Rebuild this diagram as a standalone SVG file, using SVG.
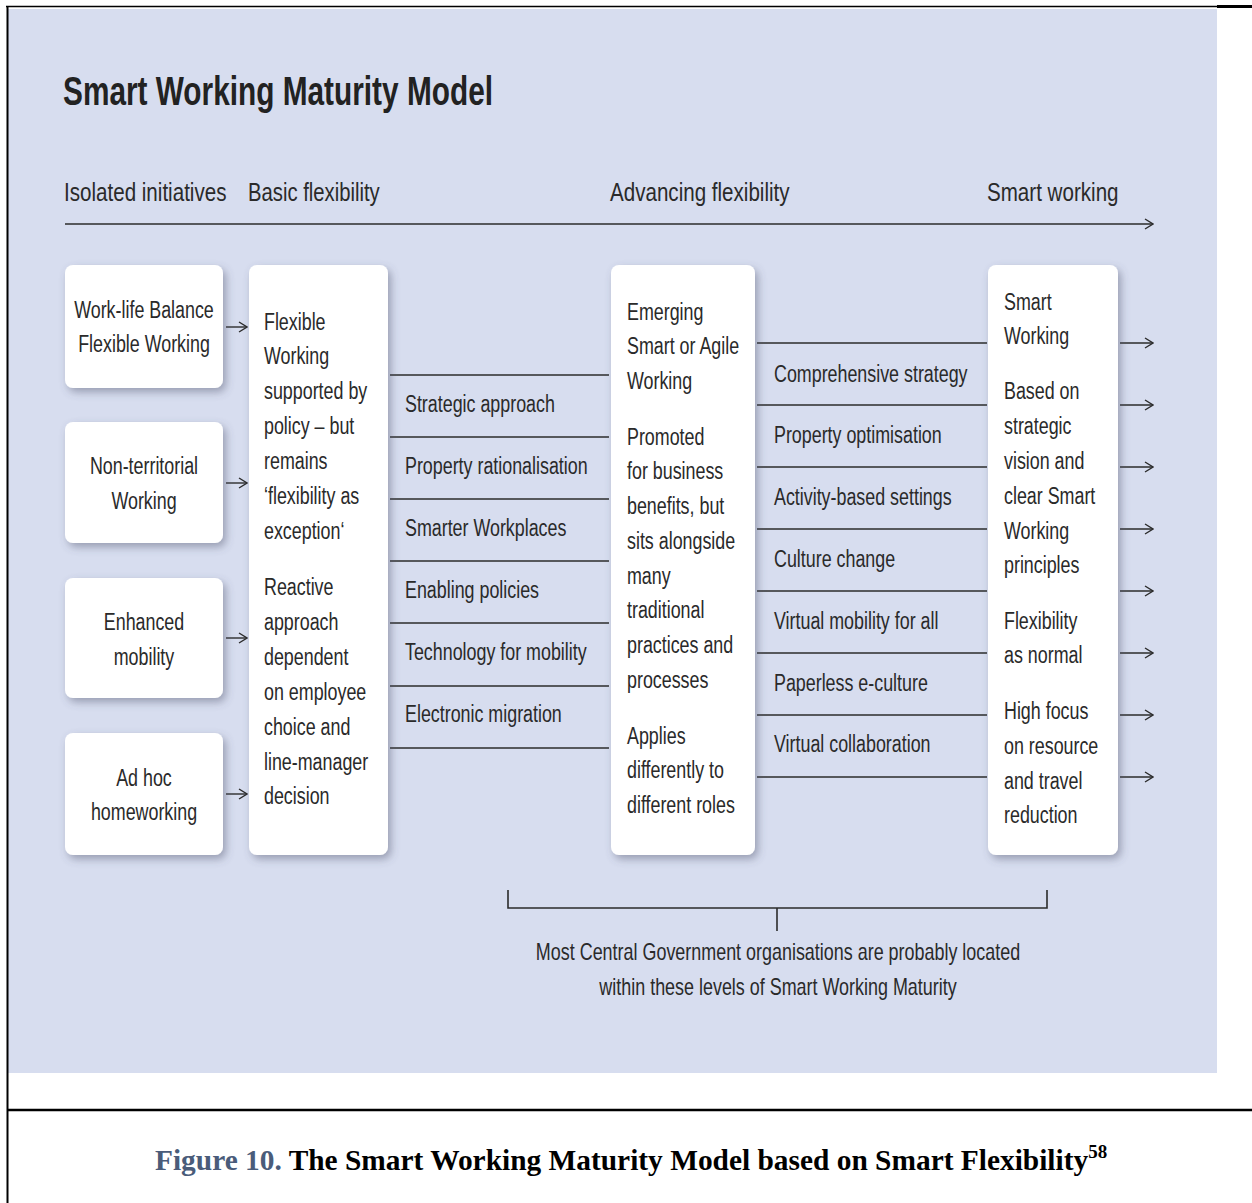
<svg xmlns="http://www.w3.org/2000/svg" width="1252" height="1203" viewBox="0 0 1252 1203">
<defs>
<filter id="sh" x="-20%" y="-10%" width="150%" height="130%">
<feDropShadow dx="3" dy="4" stdDeviation="4" flood-color="#4a5068" flood-opacity="0.45"/>
</filter>
<marker id="ar" viewBox="0 0 12 12" markerWidth="12" markerHeight="12" refX="11" refY="6" markerUnits="userSpaceOnUse" orient="auto">
<polyline points="3,1 11,6 3,11" fill="none" stroke="#2b2b2b" stroke-width="1.4"/>
</marker>
</defs>
<style>
.t{font-family:"Liberation Sans",Arial,sans-serif;font-size:23px;fill:#2a2a2a}
.h{font-size:26.5px}
.c{text-anchor:middle}
.box{fill:#ffffff;filter:url(#sh)}
.ln{stroke:#2b2b2b;stroke-width:1.6;fill:none}
.ar{stroke:#2b2b2b;stroke-width:1.4;fill:none;marker-end:url(#ar)}
.cap{font-family:"Liberation Serif","Times New Roman",serif;font-weight:bold;font-size:29.4px;fill:#000}
</style>
<rect x="0" y="0" width="1252" height="1203" fill="#ffffff"/>
<rect x="8" y="9" width="1209" height="1064" fill="#D7DDEF"/>
<g id="frame">
<line x1="6" y1="6.5" x2="1217" y2="6.5" stroke="#000" stroke-width="1.5"/>
<line x1="1217" y1="6.5" x2="1252" y2="6.5" stroke="#000" stroke-width="3"/>
<line x1="7.5" y1="6" x2="7.5" y2="1203" stroke="#000" stroke-width="2"/>
<line x1="7" y1="1110" x2="1252" y2="1110" stroke="#000" stroke-width="2.5"/>
</g>
<text id="title" class="t" x="63" y="105" style="font-size:41px;font-weight:bold;fill:#222" textLength="430" lengthAdjust="spacingAndGlyphs">Smart Working Maturity Model</text>
<g id="stages">
<g transform="translate(64 0) scale(0.777 1)"><text class="t h" x="0" y="201">Isolated initiatives</text></g>
<g transform="translate(248 0) scale(0.765 1)"><text class="t h" x="0" y="201">Basic flexibility</text></g>
<g transform="translate(610 0) scale(0.777 1)"><text class="t h" x="0" y="201">Advancing flexibility</text></g>
<g transform="translate(987 0) scale(0.777 1)"><text class="t h" x="0" y="201">Smart working</text></g>
</g>
<g id="connectors">
<line class="ar" x1="65" y1="224" x2="1153" y2="224"/>
<line class="ar" x1="226" y1="327" x2="247" y2="327"/>
<line class="ar" x1="226" y1="483" x2="247" y2="483"/>
<line class="ar" x1="226" y1="638" x2="247" y2="638"/>
<line class="ar" x1="226" y1="794" x2="247" y2="794"/>
<g class="ln">
<line x1="390" y1="375" x2="609" y2="375"/>
<line x1="390" y1="437" x2="609" y2="437"/>
<line x1="390" y1="499" x2="609" y2="499"/>
<line x1="390" y1="561" x2="609" y2="561"/>
<line x1="390" y1="623" x2="609" y2="623"/>
<line x1="390" y1="686" x2="609" y2="686"/>
<line x1="390" y1="748" x2="609" y2="748"/>
<line x1="757" y1="343" x2="987" y2="343"/>
<line x1="757" y1="405" x2="987" y2="405"/>
<line x1="757" y1="467" x2="987" y2="467"/>
<line x1="757" y1="529" x2="987" y2="529"/>
<line x1="757" y1="591" x2="987" y2="591"/>
<line x1="757" y1="653" x2="987" y2="653"/>
<line x1="757" y1="715" x2="987" y2="715"/>
<line x1="757" y1="777" x2="987" y2="777"/>
<polyline points="508,890 508,908 1047,908 1047,890"/>
<line x1="777" y1="908" x2="777" y2="931"/>
</g>
<line class="ar" x1="1120" y1="343" x2="1153" y2="343"/>
<line class="ar" x1="1120" y1="405" x2="1153" y2="405"/>
<line class="ar" x1="1120" y1="467" x2="1153" y2="467"/>
<line class="ar" x1="1120" y1="529" x2="1153" y2="529"/>
<line class="ar" x1="1120" y1="591" x2="1153" y2="591"/>
<line class="ar" x1="1120" y1="653" x2="1153" y2="653"/>
<line class="ar" x1="1120" y1="715" x2="1153" y2="715"/>
<line class="ar" x1="1120" y1="777" x2="1153" y2="777"/>
</g>
<g id="n1"><rect class="box" x="65" y="265" width="158" height="123" rx="8"/>
<g transform="translate(144 0) scale(0.777 1)"><text class="t c" x="0" y="318">Work-life Balance</text><text class="t c" x="0" y="352">Flexible Working</text></g></g>
<g id="n2"><rect class="box" x="65" y="422" width="158" height="121" rx="8"/>
<g transform="translate(144 0) scale(0.777 1)"><text class="t c" x="0" y="474">Non-territorial</text><text class="t c" x="0" y="509">Working</text></g></g>
<g id="n3"><rect class="box" x="65" y="578" width="158" height="120" rx="8"/>
<g transform="translate(144 0) scale(0.777 1)"><text class="t c" x="0" y="630">Enhanced</text><text class="t c" x="0" y="665">mobility</text></g></g>
<g id="n4"><rect class="box" x="65" y="733" width="158" height="122" rx="8"/>
<g transform="translate(144 0) scale(0.777 1)"><text class="t c" x="0" y="786">Ad hoc</text><text class="t c" x="0" y="820">homeworking</text></g></g>
<g id="basic"><rect class="box" x="249" y="265" width="139" height="590" rx="8"/>
<g transform="translate(264 0) scale(0.777 1)"><text class="t"><tspan x="0" y="330">Flexible</tspan><tspan x="0" y="364">Working</tspan><tspan x="0" y="399">supported by</tspan><tspan x="0" y="434">policy – but</tspan><tspan x="0" y="469">remains</tspan><tspan x="0" y="504">‘flexibility as</tspan><tspan x="0" y="539">exception‘</tspan><tspan x="0" y="595">Reactive</tspan><tspan x="0" y="630">approach</tspan><tspan x="0" y="665">dependent</tspan><tspan x="0" y="700">on employee</tspan><tspan x="0" y="735">choice and</tspan><tspan x="0" y="770">line-manager</tspan><tspan x="0" y="804">decision</tspan></text></g></g>
<g id="basic-items" transform="translate(405 0) scale(0.777 1)">
<text class="t" x="0" y="412">Strategic approach</text>
<text class="t" x="0" y="474">Property rationalisation</text>
<text class="t" x="0" y="536">Smarter Workplaces</text>
<text class="t" x="0" y="598">Enabling policies</text>
<text class="t" x="0" y="660">Technology for mobility</text>
<text class="t" x="0" y="722">Electronic migration</text>
</g>
<g id="advancing"><rect class="box" x="611" y="265" width="144" height="590" rx="8"/>
<g transform="translate(627 0) scale(0.777 1)"><text class="t"><tspan x="0" y="320">Emerging</tspan><tspan x="0" y="354">Smart or Agile</tspan><tspan x="0" y="389">Working</tspan><tspan x="0" y="445">Promoted</tspan><tspan x="0" y="479">for business</tspan><tspan x="0" y="514">benefits, but</tspan><tspan x="0" y="549">sits alongside</tspan><tspan x="0" y="584">many</tspan><tspan x="0" y="618">traditional</tspan><tspan x="0" y="653">practices and</tspan><tspan x="0" y="688">processes</tspan><tspan x="0" y="744">Applies</tspan><tspan x="0" y="778">differently to</tspan><tspan x="0" y="813">different roles</tspan></text></g></g>
<g id="advancing-items" transform="translate(774 0) scale(0.777 1)">
<text class="t" x="0" y="382">Comprehensive strategy</text>
<text class="t" x="0" y="443">Property optimisation</text>
<text class="t" x="0" y="505">Activity-based settings</text>
<text class="t" x="0" y="567">Culture change</text>
<text class="t" x="0" y="629">Virtual mobility for all</text>
<text class="t" x="0" y="691">Paperless e-culture</text>
<text class="t" x="0" y="752">Virtual collaboration</text>
</g>
<g id="smart"><rect class="box" x="988" y="265" width="130" height="590" rx="8"/>
<g transform="translate(1004 0) scale(0.777 1)"><text class="t"><tspan x="0" y="310">Smart</tspan><tspan x="0" y="344">Working</tspan><tspan x="0" y="399">Based on</tspan><tspan x="0" y="434">strategic</tspan><tspan x="0" y="469">vision and</tspan><tspan x="0" y="504">clear Smart</tspan><tspan x="0" y="539">Working</tspan><tspan x="0" y="573">principles</tspan><tspan x="0" y="629">Flexibility</tspan><tspan x="0" y="663">as normal</tspan><tspan x="0" y="719">High focus</tspan><tspan x="0" y="754">on resource</tspan><tspan x="0" y="789">and travel</tspan><tspan x="0" y="823">reduction</tspan></text></g></g>
<g id="note" transform="translate(778 0) scale(0.78 1)">
<text class="t c" x="0" y="960">Most Central Government organisations are probably located</text>
<text class="t c" x="0" y="995">within these levels of Smart Working Maturity</text>
</g>
<text id="caption" class="cap" x="155" y="1170"><tspan fill="#4A5C7A">Figure 10.</tspan> The Smart Working Maturity Model based on Smart Flexibility<tspan dy="-12" style="font-size:19px">58</tspan></text>
</svg>
